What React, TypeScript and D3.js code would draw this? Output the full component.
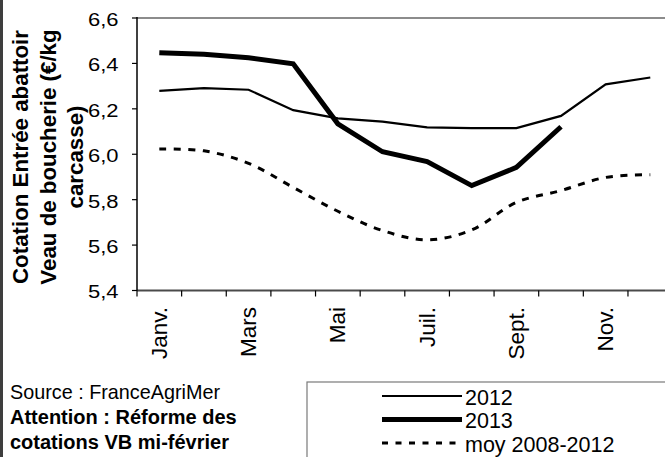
import React from "react";
import * as d3 from "d3";

const months = ["Janv.", "Févr.", "Mars", "Avr.", "Mai", "Juin", "Juil.", "Août", "Sept.", "Oct.", "Nov.", "Déc."];
const shownLabels = ["Janv.", "Mars", "Mai", "Juil.", "Sept.", "Nov."];
const yTicks = [5.4, 5.6, 5.8, 6.0, 6.2, 6.4, 6.6];
const series2012 = [6.279, 6.291, 6.284, 6.194, 6.158, 6.144, 6.118, 6.115, 6.115, 6.169, 6.308, 6.338];
const series2013: (number | null)[] = [6.447, 6.44, 6.425, 6.398, 6.134, 6.011, 5.968, 5.862, 5.942, 6.121, null, null];
const seriesMoy = [6.023, 6.015, 5.96, 5.854, 5.749, 5.664, 5.623, 5.667, 5.788, 5.84, 5.898, 5.91];
const legendLabels = ["2012", "2013", "moy 2008-2012"];
const titleLines = ["Cotation Entrée abattoir", "Veau de boucherie (€/kg", "carcasse)"];
const noteSource = "Source : FranceAgriMer";
const noteLines = ["Attention : Réforme des", "cotations VB mi-février"];

const W = 665;
const H = 457;
const FONT = "'Liberation Sans', Arial, sans-serif";

export default function App() {
  const left = 137;
  const right = 672.6;
  const top = 18;
  const bottom = 290.5;

  const x = d3.scaleBand<string>().domain(months).range([left, right]).padding(0);
  const y = d3.scaleLinear().domain([5.4, 6.6]).range([bottom, top]);
  const cx = (m: string) => (x(m) as number) + x.bandwidth() / 2;

  const lineGen = d3
    .line<[string, number | null]>()
    .defined((d) => d[1] !== null)
    .x((d) => cx(d[0]))
    .y((d) => y(d[1] as number));

  const smoothGen = d3
    .line<[string, number]>()
    .x((d) => cx(d[0]))
    .y((d) => y(d[1]))
    .curve(d3.curveCatmullRom.alpha(0.5));

  const p2012 = lineGen(months.map((m, i) => [m, series2012[i]] as [string, number | null])) || "";
  const p2013 = lineGen(months.map((m, i) => [m, series2013[i]] as [string, number | null])) || "";
  const pMoy = smoothGen(months.map((m, i) => [m, seriesMoy[i]] as [string, number])) || "";

  const fmt = (v: number) => d3.format(".1f")(v).replace(".", ",");
  const boundaries = [...months.map((m) => x(m) as number), right];

  const legendStyles = [
    { w: 2.2, dash: undefined as string | undefined },
    { w: 5, dash: undefined as string | undefined },
    { w: 3.2, dash: "6 7.5" },
  ];
  const legendRows = [396, 419.5, 443];

  return (
    <svg
      width={W}
      height={H}
      viewBox={`0 0 ${W} ${H}`}
      style={{ position: "absolute", left: 0, top: 0, background: "#fff", fontFamily: FONT }}
    >
      <rect x={0} y={0} width={W} height={H} fill="#fff" />
      <rect x={0} y={0} width={3} height={H} fill="#3e3e3e" />

      {/* plot frame */}
      <line x1={left} x2={W} y1={top} y2={top} stroke="#8c8c8c" strokeWidth={2} />
      <line x1={left} x2={W} y1={bottom} y2={bottom} stroke="#4a4a4a" strokeWidth={2} />
      <line x1={left} x2={left} y1={top - 1} y2={bottom} stroke="#000" strokeWidth={1.5} />

      {/* y ticks */}
      {yTicks.map((t) => (
        <g key={t}>
          <line x1={left - 5} x2={left} y1={y(t)} y2={y(t)} stroke="#000" strokeWidth={1.2} />
          <text
            transform={`translate(118.5, ${y(t) + 1.5}) scale(1, 0.85)`}
            textAnchor="end"
            dominantBaseline="central"
            fontSize={22}
            fill="#000"
          >
            {fmt(t)}
          </text>
        </g>
      ))}

      {/* x ticks */}
      {boundaries.map((b, i) => (
        <line key={i} x1={b} x2={b} y1={bottom} y2={bottom + 6} stroke="#000" strokeWidth={1.2} />
      ))}
      {shownLabels.map((m) => (
        <text
          key={m}
          transform={`translate(${cx(m)}, 307) rotate(-90)`}
          textAnchor="end"
          dominantBaseline="central"
          fontSize={22.5}
          fill="#000"
        >
          {m}
        </text>
      ))}

      {/* y title */}
      {titleLines.map((t, i) => (
        <text
          key={t}
          transform={`translate(${27.7 + i * 27.8}, 157) rotate(-90)`}
          textAnchor="middle"
          fontSize={22.3}
          fontWeight="bold"
          fill="#000"
        >
          {t}
        </text>
      ))}

      {/* series */}
      <path d={pMoy} fill="none" stroke="#000" strokeWidth={3} strokeDasharray="7 7.5" />
      <path d={p2012} fill="none" stroke="#000" strokeWidth={2.2} strokeLinejoin="miter" />
      <path d={p2013} fill="none" stroke="#000" strokeWidth={5} strokeLinejoin="miter" />

      {/* notes */}
      <text x={10} y={399} fontSize={19.8} fill="#000">
        {noteSource}
      </text>
      {noteLines.map((t, i) => (
        <text key={t} x={10} y={424 + i * 25} fontSize={20} fontWeight="bold" fill="#000">
          {t}
        </text>
      ))}

      {/* legend */}
      <rect x={307} y={382} width={400} height={120} fill="#fff" stroke="#7a7a7a" strokeWidth={1.2} />
      {legendLabels.map((l, i) => (
        <g key={l}>
          <line
            x1={382}
            x2={462}
            y1={legendRows[i]}
            y2={legendRows[i]}
            stroke="#000"
            strokeWidth={legendStyles[i].w}
            strokeDasharray={legendStyles[i].dash}
          />
          <text x={465} y={legendRows[i] + 1.5} dominantBaseline="central" fontSize={21.5} fill="#000">
            {l}
          </text>
        </g>
      ))}
    </svg>
  );
}
